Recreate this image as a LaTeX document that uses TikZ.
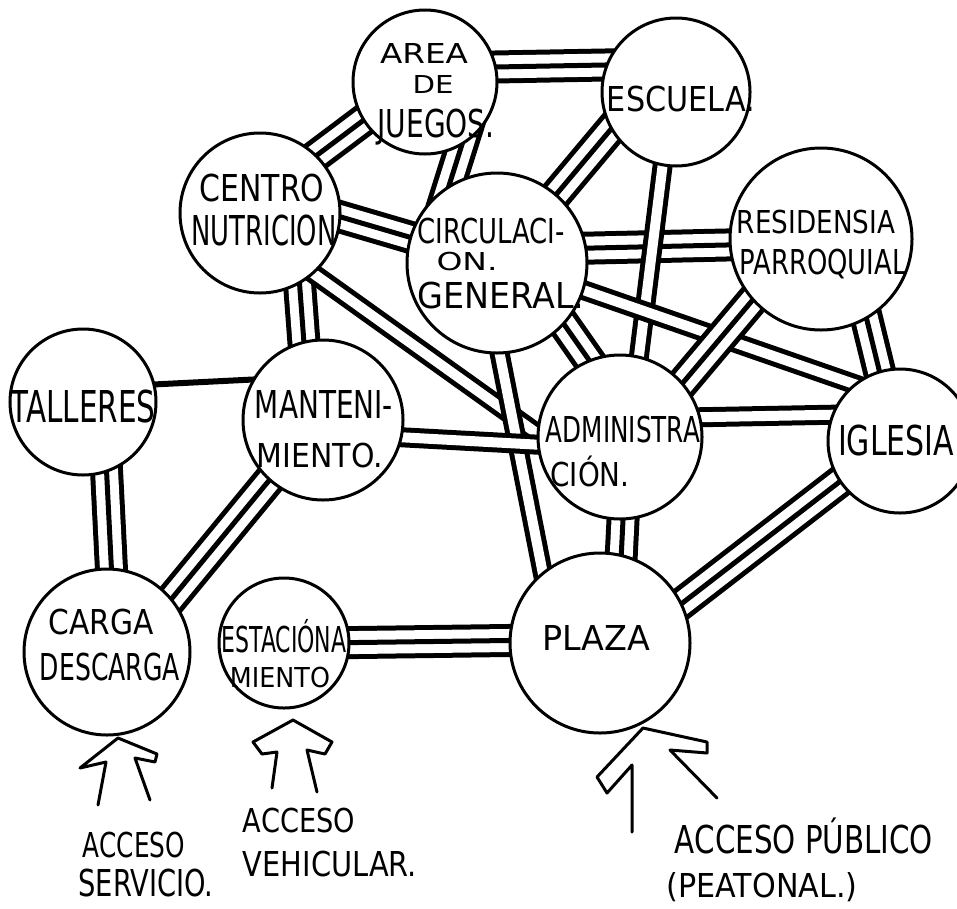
\documentclass[tikz,border=0pt]{standalone}
\usepackage{fontspec}
\setmainfont{DejaVu Sans}
\usepackage{graphicx}
\usetikzlibrary{calc,backgrounds}
\newcommand\hw[3]{\resizebox{#1pt}{#2pt}{\vphantom{A}\smash{#3}}}
\begin{document}
\begin{tikzpicture}[x=1pt,y=-1pt,
  bubble/.style={circle, draw, line width=3pt, fill=white, inner sep=0pt},
  lbl/.style={inner sep=0pt, anchor=center},
  tri/.style={preaction={draw, line width=33pt}, preaction={draw, white, line width=23pt}, line width=5pt},
  dbl/.style={double=white, double distance=10pt, line width=5pt},
  sgl/.style={line width=6pt},
  acc/.style={line width=3pt, line join=round, line cap=round}]
\useasboundingbox (0,0) rectangle (957,908);
\clip (0,0) rectangle (957,908);
% circles
\node[bubble, minimum size=144pt] (area) at (425,82) {};
\node[bubble, minimum size=148pt] (esc) at (676,92) {};
\node[bubble, minimum size=160pt] (centro) at (260,213) {};
\node[bubble, minimum size=180pt] (circ) at (497,263) {};
\node[bubble, minimum size=182pt] (resid) at (821,239) {};
\node[bubble, minimum size=146pt] (tall) at (83,402) {};
\node[bubble, minimum size=160pt] (mant) at (323,420) {};
\node[bubble, minimum size=164pt] (admin) at (620,437) {};
\node[bubble, minimum size=144pt] (igl) at (900,441) {};
\node[bubble, minimum size=166pt] (carga) at (107,652) {};
\node[bubble, minimum size=130pt] (estac) at (284,643) {};
\node[bubble, minimum size=180pt] (plaza) at (600,643) {};
% connectors
\begin{pgfonlayer}{background}
\draw[tri] ($(area)+(15,-14)$) -- ($(esc)+(-16,-28)$);
\draw[tri] ($(centro)+(0,-15)$) -- ($(area)+(0,-8)$);
\draw[tri] ($(area)+(51,18)$) -- ($(circ)+(-62,-33)$);
\draw[tri] ($(circ)+(21,-23)$) -- ($(esc)+(-38,5)$);
\draw[tri] ($(centro)+(40,-8)$) -- ($(circ)+(-47,-14)$);
\draw[tri] ($(centro)+(37,37)$) -- ($(mant)+(-17,-50)$);
\draw[tri] ($(circ)+(53,-14)$) -- ($(resid)+(-51,5)$);
\draw[tri] ($(circ)+(43,27)$) -- ($(admin)+(-10,-47)$);
\draw[dbl] ($(esc)+(-9,38)$) -- ($(admin)+(16,-57)$);
\draw[dbl] ($(circ)+(43,12)$) -- ($(igl)+(-20,-48)$);
\draw[tri] ($(resid)+(-49,38)$) -- ($(admin)+(40,-27)$);
\draw[tri] ($(resid)+(41,61)$) -- ($(igl)+(-16,-51)$);
\draw[dbl] ($(centro)+(40,51)$) -- ($(admin)+(-50,20)$);
\draw[dbl] ($(circ)+(-2,67)$) -- ($(plaza)+(-48,-23)$);
\draw[sgl] ($(tall)+(40,-16)$) -- ($(mant)+(-40,-42)$);
\draw[tri] ($(tall)+(22,38)$) -- ($(carga)+(6,-52)$);
\draw[dbl] ($(mant)+(37,15)$) -- ($(admin)+(-40,10)$);
\draw[tri] ($(mant)+(-33,35)$) -- ($(carga)+(43,-27)$);
\draw[dbl] ($(admin)+(40,-19)$) -- ($(igl)+(-30,-27)$);
\draw[tri] ($(admin)+(4,63)$) -- ($(plaza)+(19,-43)$);
\draw[tri] ($(igl)+(-40,25)$) -- ($(plaza)+(50,-15)$);
\draw[tri] ($(estac)+(36,0)$) -- ($(plaza)+(-55,-3)$);
\end{pgfonlayer}
% labels
\node[lbl] (lAREA) at (424,53) {\hw{88}{20}{AREA}};
\node[lbl] (lDE) at (433,84) {\hw{41}{18}{DE}};
\node[lbl] (lJUE) at (436,123) {\hw{117}{28}{JUEGOS.}};
\node[lbl] (lESC) at (681,99) {\hw{148}{25}{ESCUELA.}};
\node[lbl] (lCEN1) at (262,188) {\hw{125}{27}{CENTRO}};
\node[lbl] (lCEN2) at (264,230) {\hw{145}{30}{NUTRICION}};
\node[lbl] (lCIR1) at (491,231) {\hw{147}{25}{CIRCULACI-}};
\node[lbl] (lCIR2) at (467,261) {\hw{61}{18}{ON.}};
\node[lbl] (lCIR3) at (501,295) {\hw{167}{26}{GENERAL.}};
\node[lbl] (lRES1) at (816,222) {\hw{158}{23}{RESIDENSIA}};
\node[lbl] (lRES2) at (823,262) {\hw{167}{25}{PARROQUIAL}};
\node[lbl] (lTAL) at (83,406) {\hw{145}{32}{TALLERES}};
\node[lbl] (lMAN1) at (324,404) {\hw{138}{28}{MANTENI-}};
\node[lbl] (lMAN2) at (320,455) {\hw{126}{24}{MIENTO.}};
\node[lbl] (lADM1) at (623,429) {\hw{154}{26}{ADMINISTRA}};
\node[lbl] (lADM2) at (590,474) {\hw{79}{24}{CIÓN.}};
\node[lbl] (lIGL) at (896,440) {\hw{116}{30}{IGLESIA}};
\node[lbl] (lCAR1) at (101,622) {\hw{105}{25}{CARGA}};
\node[lbl] (lCAR2) at (110,667) {\hw{140}{27}{DESCARGA}};
\node[lbl] (lEST1) at (284,639) {\hw{125}{26}{ESTACIÓNA}};
\node[lbl] (lEST2) at (280,677) {\hw{100}{20}{MIENTO}};
\node[lbl] (lPLA) at (596,638) {\hw{108}{25}{PLAZA}};
\node[lbl] (lAS1) at (134,845) {\hw{102}{25}{ACCESO}};
\node[lbl] (lAS2) at (146,883) {\hw{135}{27}{SERVICIO.}};
\node[lbl] (lAV1) at (299,820) {\hw{112}{24}{ACCESO}};
\node[lbl] (lAV2) at (330,864) {\hw{174}{25}{VEHICULAR.}};
\node[lbl] (lAP1) at (804,839) {\hw{258}{28}{ACCESO PÚBLICO}};
\node[lbl] (lAP2) at (762,885) {\hw{191}{24}{(PEATONAL.)}};
% access arrows
\draw[acc] (98,805) -- (106,762) -- (80,768) -- (118,738) -- (157,754) -- (155,762) -- (135,758) -- (150,800);
\draw[acc] (272,788) -- (277,752) -- (262,754) -- (253,742) -- (293,720) -- (332,742) -- (325,754) -- (307,750) -- (317,792);
\draw[acc] (632,832) -- (632,765) -- (607,793) -- (597,777) -- (643,728) -- (707,742) -- (707,753) -- (670,750) -- (717,798);
\end{tikzpicture}
\end{document}
